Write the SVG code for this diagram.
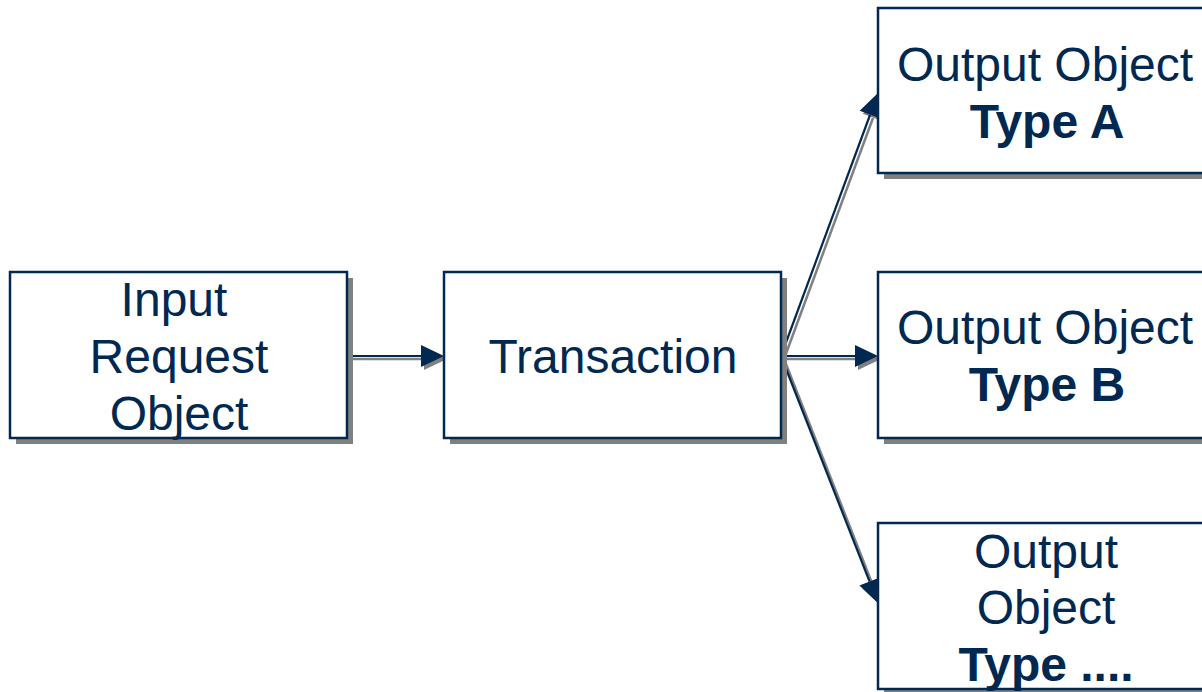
<svg xmlns="http://www.w3.org/2000/svg" width="1202" height="692" viewBox="0 0 1202 692">
<style>
.shadow{fill:#808080;stroke:none}
.box{fill:#ffffff;stroke:#002850;stroke-width:2.5}
.t{font-family:"Liberation Sans",Arial,sans-serif;font-size:48px;fill:#002850;text-anchor:middle}
.b{font-weight:bold}
.ln{stroke:#002850;stroke-width:2.2;fill:none}
.lg{stroke:#808080;stroke-width:2.5;fill:none}
.hn{fill:#002850}
.hg{fill:#808080}
</style>
<rect width="1202" height="692" fill="#ffffff"/>
<g id="connectors">
<g transform="translate(3,3)">
<line class="lg" x1="347" y1="356" x2="422" y2="356"/>
<polygon class="hg" points="444,356 421,345 421,367"/>
<line class="lg" x1="781" y1="356" x2="856" y2="356"/>
<polygon class="hg" points="878,356 855,345 855,367"/>
<line class="lg" x1="781" y1="356" x2="870" y2="115"/>
<polygon class="hg" points="878,93 880.4,118.4 859.7,110.8"/>
<line class="lg" x1="781" y1="356" x2="869.6" y2="581.6"/>
<polygon class="hg" points="878,603 859.4,585.6 879.8,577.6"/>
</g>
<line class="ln" x1="347" y1="356" x2="422" y2="356"/>
<polygon class="hn" points="444,356 421,345 421,367"/>
<line class="ln" x1="781" y1="356" x2="856" y2="356"/>
<polygon class="hn" points="878,356 855,345 855,367"/>
<line class="ln" x1="781" y1="356" x2="870" y2="115"/>
<polygon class="hn" points="878,93 880.4,118.4 859.7,110.8"/>
<line class="ln" x1="781" y1="356" x2="869.6" y2="581.6"/>
<polygon class="hn" points="878,603 859.4,585.6 879.8,577.6"/>
</g>
<g id="input">
<rect class="shadow" x="16" y="278" width="337" height="166"/>
<rect class="box" x="10" y="272" width="337" height="166"/>
<text class="t" x="174" y="316">Input</text>
<text class="t" x="179" y="373">Request</text>
<text class="t" x="179" y="430">Object</text>
</g>
<g id="transaction">
<rect class="shadow" x="450" y="278" width="337" height="166"/>
<rect class="box" x="444" y="272" width="337" height="166"/>
<text class="t" x="613" y="373">Transaction</text>
</g>
<g id="outputA">
<rect class="shadow" x="884" y="14" width="337" height="165"/>
<rect class="box" x="878" y="8" width="337" height="165"/>
<text class="t" x="1045" y="81">Output Object</text>
<text class="t b" x="1047" y="138">Type A</text>
</g>
<g id="outputB">
<rect class="shadow" x="884" y="278" width="337" height="166"/>
<rect class="box" x="878" y="272" width="337" height="166"/>
<text class="t" x="1045" y="344">Output Object</text>
<text class="t b" x="1047" y="401">Type B</text>
</g>
<g id="outputC">
<rect class="shadow" x="884" y="529" width="337" height="166"/>
<rect class="box" x="878" y="523" width="337" height="166"/>
<text class="t" x="1046" y="568">Output</text>
<text class="t" x="1046" y="624">Object</text>
<text class="t b" x="1046" y="681">Type ....</text>
</g>
</svg>
